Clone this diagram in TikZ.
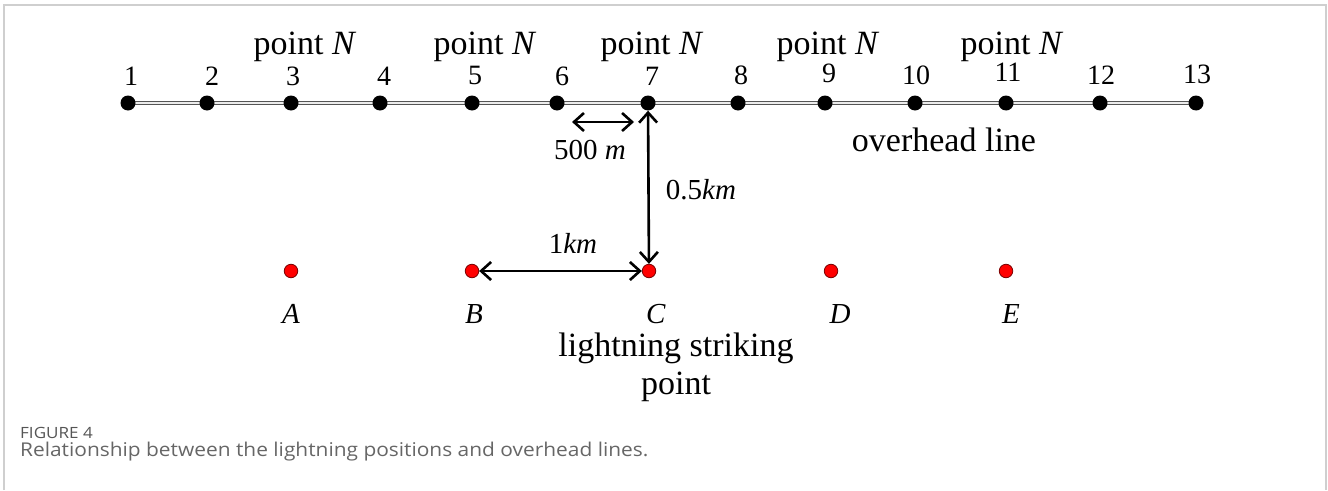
\documentclass[tikz,border=0pt]{standalone}
\usepackage{fontspec}
\setmainfont{Liberation Serif}
\newfontfamily\capfont[FakeStretch=1.1]{Open Sans}
\usetikzlibrary{arrows.meta,backgrounds}
\definecolor{cWire}{HTML}{555555}
\definecolor{cStrike}{HTML}{FF0000}
\definecolor{cRim}{HTML}{7A0000}
\definecolor{cFrame}{HTML}{CFCFCF}
\definecolor{cCap}{HTML}{666666}
\definecolor{cFig}{HTML}{555555}

\begin{document}
\begin{tikzpicture}[
    x=1pt, y=1pt,
    pole/.style={circle, fill=black, inner sep=0pt, minimum size=15pt},
    strike/.style={circle, fill=cStrike, draw=cRim, line width=0.8pt, inner sep=0pt, minimum size=13.5pt},
    num/.style={font=\fontsize{28}{30}\selectfont, inner sep=0pt},
    tag/.style={font=\fontsize{34}{38}\selectfont, inner sep=0pt},
    dimtxt/.style={font=\fontsize{29}{32}\selectfont, inner sep=0pt},
    wire/.style={draw=cWire, line width=1.2pt, double=white!85!gray, double distance=2pt},
    dimarr/.style={{Straight Barb[length=10pt,width=18pt]}-{Straight Barb[length=10pt,width=18pt]}, line width=2.6pt},
    captext/.style={anchor=west, inner sep=0pt, text=cCap},
  ]
  \useasboundingbox (0,0) rectangle (1328,-490);
  % --- frame ---
  \draw[cFrame, line width=2pt] (4,-490) -- (4,-5) -- (1326,-5) -- (1326,-490);

  % --- overhead line and its points ---
  \node[pole] (p1) at (128,-103) {};
  \node[pole] (p2) at (207,-103) {};
  \node[pole] (p3) at (291,-103) {};
  \node[pole] (p4) at (380,-103) {};
  \node[pole] (p5) at (472,-103) {};
  \node[pole] (p6) at (557,-103) {};
  \node[pole] (p7) at (648,-103) {};
  \node[pole] (p8) at (738,-103) {};
  \node[pole] (p9) at (825,-103) {};
  \node[pole] (p10) at (915,-103) {};
  \node[pole] (p11) at (1006,-103) {};
  \node[pole] (p12) at (1100,-103) {};
  \node[pole] (p13) at (1196,-103) {};
  \begin{scope}[on background layer]
    \draw[wire] (p1.center) -- (p13.center);
  \end{scope}

  \node[num] (n1) at (131,-76) {1};
  \node[num] (n2) at (212,-76) {2};
  \node[num] (n3) at (293,-76) {3};
  \node[num] (n4) at (384,-76) {4};
  \node[num] (n5) at (475,-75) {5};
  \node[num] (n6) at (562,-76) {6};
  \node[num] (n7) at (652,-76) {7};
  \node[num] (n8) at (741,-75) {8};
  \node[num] (n9) at (829,-73) {9};
  \node[num] (n10) at (916,-75) {10};
  \node[num] (n11) at (1008,-72) {11};
  \node[num] (n12) at (1101,-75) {12};
  \node[num] (n13) at (1197,-74) {13};

  \node[tag] (t3) at (305,-47) {point \textit{N}};
  \node[tag] (t5) at (485,-47) {point \textit{N}};
  \node[tag] (t7) at (652,-47) {point \textit{N}};
  \node[tag] (t9) at (828,-47) {point \textit{N}};
  \node[tag] (t11) at (1012,-47) {point \textit{N}};
  \node[tag] (ohl) at (944,-140) {overhead line};

  % --- lightning striking points ---
  \node[strike] (A) at (291,-271) {};
  \node[strike] (B) at (472,-271) {};
  \node[strike] (C) at (649,-271) {};
  \node[strike] (D) at (831,-271) {};
  \node[strike] (E) at (1006,-271) {};
  \node[dimtxt] (lA) at (291,-314) {\textit{A}};
  \node[dimtxt] (lB) at (474,-314) {\textit{B}};
  \node[dimtxt] (lC) at (656,-314) {\textit{C}};
  \node[dimtxt] (lD) at (840,-314) {\textit{D}};
  \node[dimtxt] (lE) at (1011,-314) {\textit{E}};
  \node[tag, align=center] (lsp) at (676,-367) {lightning striking\\point};

  % --- distances ---
  \draw[dimarr] ([xshift=15,yshift=-19]p6.center) -- ([xshift=-14,yshift=-19]p7.center);
  \node[dimtxt] (d500) at (590,-150) {500 \textit{m}};
  \draw[dimarr] (p7) -- (C);
  \node[dimtxt] (d05) at (701,-190) {0.5\textit{km}};
  \draw[dimarr] (B) -- (C);
  \node[dimtxt] (d1) at (573,-243) {1\textit{km}};

  % --- caption ---
  \node[captext, text=cFig, font=\capfont\fontsize{15.5}{17}\selectfont] (fig) at (20,-433) {FIGURE 4};
  \node[captext, font=\capfont\fontsize{19}{22}\selectfont] (capt) at (20,-452)
    {Relationship between the lightning positions and overhead lines.};
\end{tikzpicture}
\end{document}
